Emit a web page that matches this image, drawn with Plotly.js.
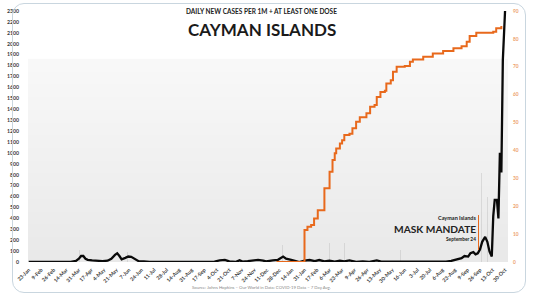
<!DOCTYPE html>
<html>
<head>
<meta charset="utf-8">
<script src="https://cdn.plot.ly/plotly-3.0.1.min.js"></script>
<style>
  html, body { margin: 0; padding: 0; background: #ffffff; }
  #chart { position: absolute; left: 0; top: 0; width: 533px; height: 300px; }
  #card { position: absolute; left: 12px; top: 3px; width: 512px; height: 288px;
          border: 1px solid #c9d6df; border-radius: 12px; pointer-events: none; }
</style>
</head>
<body>
<div id="chart"></div>
<div id="card"></div>
<script>
// 7-day average daily new cases per million (Cayman Islands)
const caseDates = [
  '2020-01-23','2020-03-10','2020-03-20','2020-03-27','2020-03-31','2020-04-03','2020-04-06','2020-04-09',
  '2020-04-12','2020-04-18','2020-04-25','2020-05-02','2020-05-09','2020-05-14','2020-05-19','2020-05-22',
  '2020-05-25','2020-05-28','2020-06-02','2020-06-06','2020-06-10','2020-06-15','2020-06-20','2020-06-27',
  '2020-07-05','2020-08-15','2020-09-20','2020-10-01','2020-10-08','2020-10-15','2020-10-21','2020-10-30',
  '2020-11-04','2020-11-08','2020-11-15','2020-11-22','2020-11-29','2020-12-06','2020-12-10','2020-12-19',
  '2020-12-26','2021-01-02','2021-01-06','2021-01-13','2021-01-18','2021-01-24','2021-01-31','2021-02-07',
  '2021-02-14','2021-02-20','2021-02-27','2021-03-06','2021-03-13','2021-03-20','2021-03-26','2021-04-02',
  '2021-04-11','2021-04-20','2021-04-29','2021-05-09','2021-05-15','2021-05-27','2021-06-20','2021-07-15',
  '2021-08-11','2021-08-18','2021-08-25','2021-09-01','2021-09-05','2021-09-10','2021-09-13','2021-09-17',
  '2021-09-20','2021-09-23','2021-09-26','2021-09-29','2021-10-03','2021-10-06','2021-10-09','2021-10-12',
  '2021-10-14','2021-10-16','2021-10-19','2021-10-21','2021-10-23','2021-10-25','2021-10-27','2021-10-30'
];
const caseValues = [
  0,0,2,10,30,55,55,30,
  20,15,12,8,12,30,65,80,
  55,25,38,50,48,25,8,5,
  1,2,2,3,15,20,5,2,
  15,4,8,12,20,12,5,15,
  20,50,30,20,8,0,12,18,
  8,18,5,12,3,12,6,15,
  1,5,2,15,3,3,2,2,
  3,10,20,35,55,50,80,90,
  70,80,115,185,230,185,95,50,
  420,570,570,400,1000,820,1850,2300
];

// Daily raw cases per million (faint spikes)
const spikeDates = ['2020-04-01','2020-04-04','2020-05-16','2020-05-20','2020-06-05','2020-10-08','2020-12-02',
  '2021-01-01','2021-03-06','2021-03-26','2021-04-05','2021-05-09','2021-06-10','2021-09-15','2021-09-28','2021-10-06','2021-10-14','2021-10-22'];
const spikeValues = [110,90,265,140,90,90,160,
  155,175,175,120,175,110,150,816,600,1300,1000];

// Share of population with at least one dose (%)
const vaxDates = [
  '2020-12-24','2021-01-31','2021-02-04','2021-02-09','2021-02-13','2021-02-18','2021-02-27','2021-03-06',
  '2021-03-10','2021-03-13','2021-03-15','2021-03-20','2021-03-23','2021-03-26','2021-04-02','2021-04-06',
  '2021-04-11','2021-04-16','2021-04-25','2021-04-30','2021-05-06','2021-05-09','2021-05-14','2021-05-20',
  '2021-05-22','2021-05-28','2021-05-31','2021-06-05','2021-06-16','2021-06-23','2021-06-27','2021-07-11',
  '2021-07-24','2021-08-07','2021-08-21','2021-09-01','2021-09-08','2021-09-12','2021-09-21','2021-10-14',
  '2021-10-18','2021-10-25'
];
const vaxValues = [
  0,11.5,12.6,13.3,15.6,18.6,26.4,32.4,
  36.6,39,40.7,42.5,43.7,45.5,46,48,
  50.3,51.9,53.3,55.7,56.3,59.2,61,61.4,
  64,65.2,68.2,70,70.3,71.8,72.6,73.6,
  74.8,75.7,76.6,77.4,79,81,82.2,82.6,
  83.8,84.6
];

const maskDate = '2021-09-24';
const maskLineRange = [110, 430];
const leftTicks = [0,100,200,300,400,500,600,700,800,900,1000,1100,1200,1300,1400,1500,1600,1700,1800,1900,2000,2100,2200,2300];
const rightTicks = [0,10,20,30,40,50,60,70,80,90];
const xTickStart = '2020-01-23';
const xTickStepDays = 17;

const traces = [
  { type: 'bar', x: spikeDates, y: spikeValues, marker: { color: 'rgba(160,160,160,0.28)' },
    width: 86400000 * 0.5, hoverinfo: 'skip', showlegend: false },
  { type: 'scatter', mode: 'lines', x: vaxDates, y: vaxValues, yaxis: 'y2',
    line: { color: '#e8691c', width: 2, shape: 'hv' }, showlegend: false },
  { type: 'scatter', mode: 'lines', x: caseDates, y: caseValues,
    line: { color: '#0a0a0a', width: 2.3 }, showlegend: false }
];

const tickFont = { family: 'Lato, sans-serif', size: 5.2, color: '#3a3a3a', weight: 700 };

// soft grey backdrop with a vertical gradient
const shapes = [
  { type: 'rect', xref: 'paper', yref: 'paper', x0: 0, x1: 1, y0: 0, y1: 0.81, layer: 'below',
    line: { width: 0 }, fillcolor: 'rgba(0,0,0,0.022)' }
];
const bandCount = 16;
for (let i = 1; i <= bandCount; i++) {
  shapes.push({ type: 'rect', xref: 'paper', yref: 'paper', x0: 0, x1: 1, y0: 0, y1: 0.81 * i / bandCount,
    layer: 'below', line: { width: 0 }, fillcolor: 'rgba(0,0,0,0.003)' });
}
shapes.push({ type: 'line', xref: 'x', yref: 'y', x0: maskDate, x1: maskDate, y0: maskLineRange[0], y1: maskLineRange[1],
  line: { color: '#e8691c', width: 1 } });

const annotations = [
  { xref: 'paper', yref: 'paper', x: 0.487, y: 1.0, yanchor: 'middle', showarrow: false,
    text: 'DAILY NEW CASES PER 1M + AT LEAST ONE DOSE',
    font: { family: 'Lato, sans-serif', size: 6.5, color: '#222', weight: 700 } },
  { xref: 'paper', yref: 'paper', x: 0.487, y: 0.928, yanchor: 'middle', showarrow: false,
    text: 'CAYMAN ISLANDS',
    font: { family: 'Lato, sans-serif', size: 17, color: '#1a1a1a', weight: 700 } },
  { xref: 'x', yref: 'y', x: maskDate, y: 405, xanchor: 'right', yanchor: 'middle', xshift: -1, showarrow: false,
    text: 'Cayman Islands', font: { family: 'Lato, sans-serif', size: 5.5, color: '#222', weight: 700 } },
  { xref: 'x', yref: 'y', x: maskDate, y: 305, xanchor: 'right', yanchor: 'middle', xshift: -1, showarrow: false,
    text: 'MASK MANDATE', font: { family: 'Lato, sans-serif', size: 10.2, color: '#222', weight: 700 } },
  { xref: 'x', yref: 'y', x: maskDate, y: 212, xanchor: 'right', yanchor: 'middle', xshift: -1, showarrow: false,
    text: 'September 24', font: { family: 'Lato, sans-serif', size: 4.8, color: '#222', weight: 700 } },
  { xref: 'paper', yref: 'paper', x: 0.487, y: -0.085, yanchor: 'top', showarrow: false,
    text: 'Source: Johns Hopkins – Our World in Data: COVID-19 Data – 7 Day Avg.',
    font: { family: 'Lato, sans-serif', size: 4.3, color: '#8a8a8a' } }
];

const layout = {
  width: 533, height: 300,
  margin: { l: 28, r: 25, t: 11, b: 38 },
  paper_bgcolor: '#ffffff', plot_bgcolor: 'rgba(0,0,0,0)',
  showlegend: false,
  bargap: 0,
  xaxis: {
    type: 'date', range: ['2020-01-22', '2021-11-03'],
    tick0: xTickStart, dtick: xTickStepDays * 86400000, tickformat: '%-d-%b',
    tickangle: -45, tickfont: tickFont, showgrid: false, zeroline: false, showline: false,
    ticks: '', ticklabelstandoff: 3
  },
  yaxis: {
    range: [0, 2300], tickvals: leftTicks, tickfont: tickFont, showgrid: false, zeroline: false,
    showline: false, ticks: '', ticklabelstandoff: 8
  },
  yaxis2: {
    overlaying: 'y', side: 'right', range: [0, 90], tickvals: rightTicks, ticksuffix: '%',
    tickfont: { family: 'Lato, sans-serif', size: 4.8, color: '#eda06a', weight: 700 },
    showgrid: false, zeroline: false, showline: false, ticks: '', ticklabelstandoff: 4
  },
  shapes: shapes,
  annotations: annotations
};

Plotly.newPlot('chart', traces, layout, { displayModeBar: false, staticPlot: true });
</script>
</body>
</html>
